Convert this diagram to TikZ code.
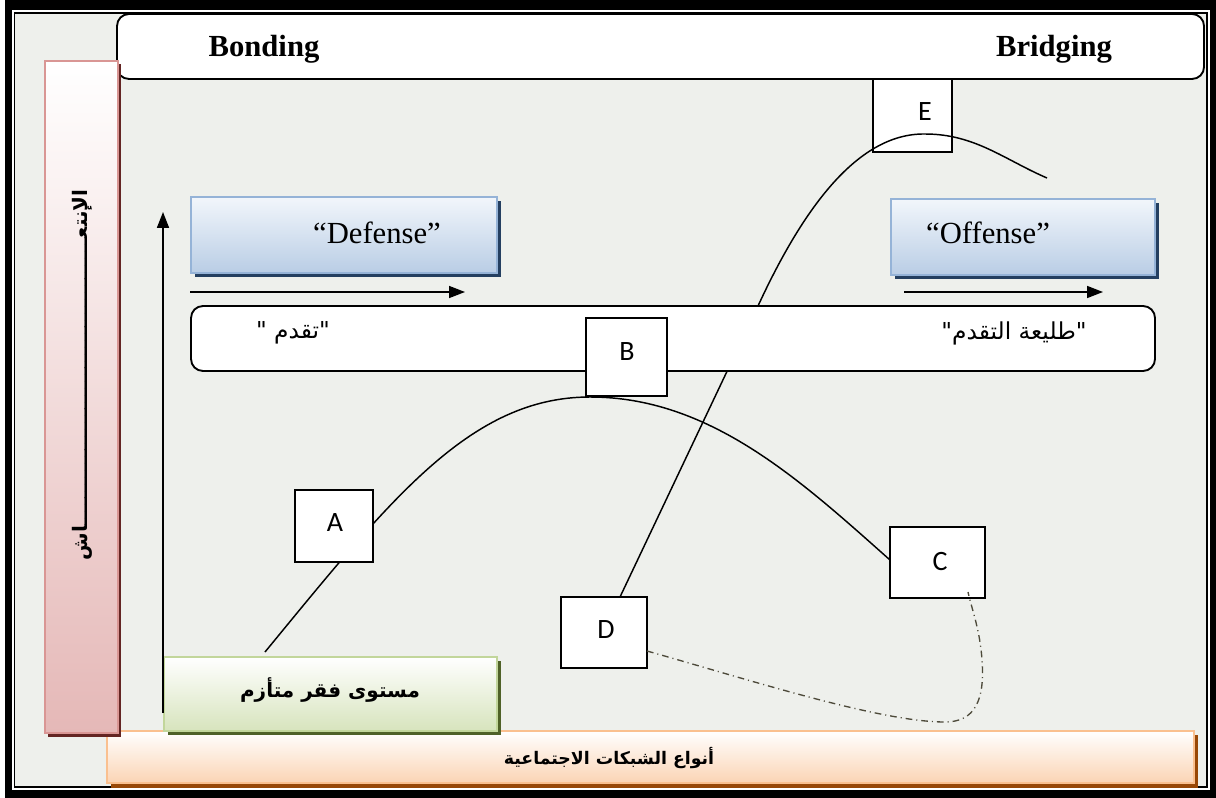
\documentclass[tikz,border=0pt]{standalone}
\usepackage{fontspec}
\setmainfont{Liberation Serif}
\newfontfamily\arabicfont[Script=Arabic]{DejaVu Sans}
\newfontfamily\letterfont{Carlito}
\TeXXeTstate=1
\usetikzlibrary{arrows.meta}

\definecolor{panel}{HTML}{EEF0EC}
\definecolor{pinkedge}{HTML}{D99694}
\definecolor{pinkfill}{HTML}{E5B8B7}
\definecolor{pinkshadow}{HTML}{632523}
\definecolor{greenedge}{HTML}{C2D69B}
\definecolor{greenfill}{HTML}{D7E4BD}
\definecolor{greenshadow}{HTML}{4F6128}
\definecolor{orangeedge}{HTML}{FAC08F}
\definecolor{orangefill}{HTML}{FBD4B4}
\definecolor{orangeshadow}{HTML}{984807}
\definecolor{blueedge}{HTML}{95B3D7}
\definecolor{bluefill}{HTML}{B9CDE5}
\definecolor{bluetop}{HTML}{F2F6FB}
\definecolor{blueshadow}{HTML}{243F60}
\definecolor{dashcol}{HTML}{4D4A3A}

% Arabic words are boxed one by one and set in visual order (right-most word last)
\newcommand{\aw}[1]{\hbox{#1}}

\begin{document}
\begin{tikzpicture}[x=0.75pt,y=-0.75pt,
  letterbox/.style={draw=black,line width=1.2pt,fill=white,inner sep=0pt},
  lettertext/.style={font=\letterfont\fontsize{21}{25}\selectfont,inner sep=0pt},
  curve/.style={draw=black,line width=1.1pt},
  axisarrow/.style={draw=black,line width=1.3pt,-{Triangle[length=12pt,width=9pt]}},
  titletext/.style={font=\bfseries\fontsize{23}{27}\selectfont,inner sep=0pt},
  quotetext/.style={font=\fontsize{23}{27}\selectfont,inner sep=0pt},
  artext/.style={font=\arabicfont\fontsize{17.5}{21}\selectfont,inner sep=0pt},
  arbold/.style={font=\arabicfont\bfseries\fontsize{15}{19}\selectfont,inner sep=0pt},
  flowdash/.style={draw=dashcol,line width=1pt,dash pattern=on 5pt off 3pt on 0.8pt off 3pt}]
\useasboundingbox (0,0) rectangle (1216,798);

% frame
\fill[white] (0,0) rectangle (1216,798);
\fill[black] (5,0) rectangle (1216,798);
\fill[white] (12,10) rectangle (1210,790);
\draw[black,line width=1.2pt,fill=panel] (14.5,13) rectangle (1207,787);

% top band
\draw[black,line width=1.4pt,fill=white,rounded corners=9pt] (117,14) rectangle (1204,79);
\node[titletext] (bonding) at (264,49) {Bonding};
\node[titletext] (bridging) at (1054,49) {Bridging};

% bottom band
\fill[orangeshadow] (111,735) rectangle (1198,788);
\shade[top color=white,bottom color=orangefill] (107,731) rectangle (1194,783);
\draw[orangeedge,line width=1.5pt] (107,731) rectangle (1194,783);
\node[arbold,font=\arabicfont\bfseries\fontsize{13}{17}\selectfont] (networks) at (609,758)
  {\aw{الاجتماعية}\ \aw{الشبكات}\ \aw{أنواع}};

% vertical band
\fill[pinkshadow] (48,64) rectangle (121,737);
\shade[top color=white,bottom color=pinkfill] (45,61) rectangle (118,733);
\draw[pinkedge,line width=1.5pt] (45,61) rectangle (118,733);
\node[arbold,rotate=90] (recovery) at (82,375)
  {\aw{الإنتعــــــــــــــــــــــــــــــــــــــــــاش}};

% starting level box
\fill[greenshadow] (168,661) rectangle (501,735);
\shade[top color=white,bottom color=greenfill] (164,657) rectangle (497,731);
\draw[greenedge,line width=1.5pt] (164,657) rectangle (497,731);
\node[arbold] (poverty) at (330,690) {\aw{متأزم}\ \aw{فقر}\ \aw{مستوى}};

% vertical axis arrow
\coordinate (axisfoot) at (163,713);
\coordinate (axistip) at (163,212);
\draw[axisarrow] (axisfoot) -- (axistip);

% strategy boxes
\fill[blueshadow] (195,201) rectangle (501,277);
\shade[top color=bluetop,bottom color=bluefill] (191,197) rectangle (497,273);
\draw[blueedge,line width=1.5pt] (191,197) rectangle (497,273);
\node[quotetext] (defense) at (377,233) {“Defense”};

\fill[blueshadow] (895,203) rectangle (1159,279);
\shade[top color=bluetop,bottom color=bluefill] (891,199) rectangle (1155,275);
\draw[blueedge,line width=1.5pt] (891,199) rectangle (1155,275);
\node[quotetext] (offense) at (988,233) {“Offense”};

\coordinate (lefttail) at (190,292);
\coordinate (lefthead) at (465,292);
\coordinate (righttail) at (904,292);
\coordinate (righthead) at (1103,292);
\draw[axisarrow,line width=1.2pt] (lefttail) -- (lefthead);
\draw[axisarrow,line width=1.2pt] (righttail) -- (righthead);

% peak box E and the rising curve D -> E
\node[letterbox,minimum width=59.25pt,minimum height=54.75pt] (E) at (912.5,115.5) {};
\node[lettertext] (Etext) at (925,112) {E};
\node[letterbox,minimum width=64.5pt,minimum height=53.25pt] (D) at (604,632.5) {};
\coordinate (Dtop) at (620,597);
\coordinate (riseknee) at (758,306);
\coordinate (Epeak) at (925,134);
\coordinate (riseend) at (1047,178);
\draw[curve] (Dtop) -- (riseknee)
  .. controls (800,215) and (855,133) .. (Epeak)
  .. controls (975,134) and (1005,160) .. (riseend);

% progress band
\draw[black,line width=1.4pt,fill=white,rounded corners=9pt] (191,306) rectangle (1155,371);
\node[artext] (progress) at (293,333) {\aw{"}\ \aw{تقدم}\aw{"}};
\node[artext] (vanguard) at (1014,333) {\aw{"}\aw{التقدم}\ \aw{طليعة}\aw{"}};

% bell curve A -> B -> C
\coordinate (bellstart) at (265,652);
\coordinate (bellpeak) at (590,397);
\coordinate (bellend) at (890,560);
\draw[curve] (bellstart) .. controls (390,500) and (470,397) .. (bellpeak)
  .. controls (710,397) and (800,480) .. (bellend);

\node[letterbox,minimum width=58.5pt,minimum height=54pt] (A) at (334,526) {};
\node[lettertext] (Atext) at (335,523) {A};
\node[letterbox,minimum width=60.75pt,minimum height=58.5pt] (B) at (626.5,357) {};
\node[lettertext] (Btext) at (627,352) {B};
\node[letterbox,minimum width=71.25pt,minimum height=53.25pt] (C) at (937.5,562.5) {};
\node[lettertext] (Ctext) at (940,562) {C};
\node[letterbox,minimum width=64.5pt,minimum height=53.25pt] (D) at (604,632.5) {};
\node[lettertext] (Dtext) at (606,630) {D};

% dash-dot link D -> C
\coordinate (Dside) at (647,651);
\coordinate (loopbottom) at (945,722);
\coordinate (Cfoot) at (968,592);
\draw[flowdash] (Dside) .. controls (750,680) and (880,722) .. (loopbottom)
  .. controls (975,722) and (985,700) .. (982,660)
  .. controls (980,630) and (972,610) .. (Cfoot);
\end{tikzpicture}
\end{document}
